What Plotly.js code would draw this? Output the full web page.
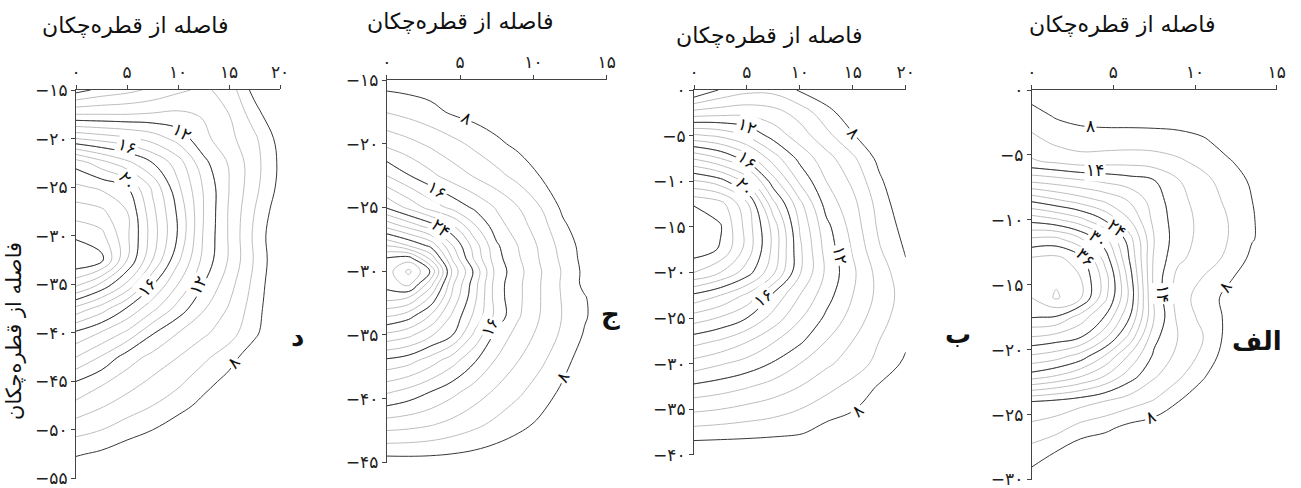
<!DOCTYPE html>
<html><head><meta charset="utf-8">
<script src="https://cdn.plot.ly/plotly-3.0.1.min.js"></script>
<style>html,body{margin:0;padding:0;background:#fff;}#chart{width:1301px;height:488px;}</style>
</head><body><div id="chart"></div>
<script>
// ---------- Panel د ----------
const dX = [0, 2.5, 5, 7.5, 10, 12.5, 15, 17.5, 20];
const dY = [-15, -17.5, -20, -22.5, -25, -27.5, -30, -32.5, -35, -37.5, -40, -42.5, -45, -47.5, -50, -52.5, -55];
const dZ = [
  [7.6, 8.3, 8.7, 9.2, 9.8, 10.2, 9.6, 7.6, 5.8],
  [11.0, 11.0, 11.0, 11.1, 11.2, 10.9, 10.0, 8.5, 6.8],
  [15.0, 14.6, 14.2, 13.6, 12.6, 11.3, 10.3, 9.2, 7.6],
  [19.6, 18.4, 17.3, 16.0, 14.5, 12.3, 10.9, 9.4, 7.8],
  [21.2, 20.8, 20.0, 17.8, 15.2, 12.9, 11.0, 9.3, 7.7],
  [22.5, 22.2, 21.0, 18.3, 15.8, 13.0, 10.9, 9.0, 7.3],
  [23.8, 23.3, 21.2, 18.5, 15.9, 12.9, 10.9, 8.8, 7.0],
  [25.0, 24.3, 21.0, 18.0, 15.2, 12.7, 10.9, 8.9, 7.1],
  [22.3, 20.8, 18.8, 16.1, 14.0, 12.0, 10.4, 8.7, 7.0],
  [18.7, 17.5, 15.9, 14.3, 12.6, 11.1, 9.9, 8.5, 6.9],
  [15.8, 14.9, 13.8, 12.1, 11.0, 10.2, 9.4, 8.3, 6.6],
  [14.0, 12.9, 11.5, 10.7, 10.0, 9.2, 8.5, 7.2, 5.8],
  [12.0, 11.2, 10.5, 9.8, 9.2, 8.5, 7.6, 6.4, 5.0],
  [10.7, 10.1, 9.5, 9.0, 8.5, 7.6, 6.6, 5.6, 4.5],
  [9.35, 9.0, 8.5, 8.0, 7.2, 6.4, 5.6, 4.8, 4.0],
  [8.1, 7.8, 7.3, 6.8, 6.2, 5.6, 4.9, 4.2, 3.5],
  [7.0, 6.8, 6.4, 6.0, 5.5, 5.0, 4.4, 3.8, 3.2]
];
const dGray = [9, 25, 1];
const dBlack = [8, 12, 16, 20, 24];
const dXTicks = [0, 5, 10, 15, 20];
const dXText = ['۰', '۵', '۱۰', '۱۵', '۲۰'];
const dYTicks = [-15, -20, -25, -30, -35, -40, -45, -50, -55];
const dYText = ['−۱۵', '−۲۰', '−۲۵', '−۳۰', '−۳۵', '−۴۰', '−۴۵', '−۵۰', '−۵۵'];
const dLabels = ['۱۲', '۱۶', '۲۰', '۱۶', '۱۲', '۸'];

// ---------- Panel ج ----------
const jX = [0, 1.5, 3, 4.5, 6, 7.5, 9, 10.5, 12, 13.5, 15];
const jY = [-15, -17.5, -20, -22.5, -25, -26.5, -28, -29, -30, -31, -32, -33.5, -35, -37, -39.5, -42, -45];
const jZ = [
  [7.0, 6.9, 6.8, 6.6, 6.4, 6.2, 6.0, 5.8, 5.6, 5.4, 5.2],
  [9.9, 9.3, 8.6, 7.7, 7.2, 6.8, 6.4, 6.0, 5.7, 5.4, 5.1],
  [13.5, 12.6, 11.6, 10.6, 9.5, 8.4, 7.5, 6.9, 6.3, 5.8, 5.3],
  [18.0, 16.1, 14.5, 13.0, 11.8, 10.6, 9.3, 7.9, 7.0, 6.2, 5.5],
  [23.8, 21.5, 19.2, 17.4, 15.6, 13.8, 12.0, 10.0, 7.6, 6.6, 5.8],
  [29.6, 27.5, 25.2, 22.4, 18.3, 14.9, 12.9, 10.9, 8.4, 6.8, 6.0],
  [36.0, 34.0, 31.5, 26.0, 21.0, 16.3, 13.9, 11.6, 9.2, 7.2, 6.2],
  [40.2, 41.0, 35.5, 27.7, 21.6, 16.7, 14.2, 11.8, 9.5, 7.3, 6.3],
  [41.0, 44.5, 39.8, 29.5, 23.5, 17.2, 14.6, 12.1, 9.8, 7.5, 6.5],
  [40.8, 42.6, 36.8, 28.3, 22.8, 16.9, 14.4, 12.0, 9.7, 7.5, 6.5],
  [39.0, 38.2, 33.8, 27.5, 22.5, 16.9, 14.4, 12.0, 9.8, 8.1, 6.7],
  [34.2, 32.8, 29.8, 25.6, 21.5, 17.3, 14.2, 11.9, 9.9, 8.2, 6.8],
  [29.5, 28.5, 26.3, 24.0, 19.5, 15.3, 13.2, 11.4, 9.6, 7.8, 6.6],
  [23.6, 22.8, 21.0, 18.8, 16.2, 13.8, 12.0, 10.4, 8.7, 7.0, 6.0],
  [18.2, 17.2, 15.9, 14.5, 13.0, 11.6, 10.3, 9.0, 7.6, 6.4, 5.6],
  [13.0, 12.7, 12.2, 11.4, 10.5, 9.5, 8.6, 7.6, 6.6, 5.8, 5.2],
  [7.0, 7.1, 7.1, 7.0, 6.8, 6.5, 6.0, 5.6, 5.2, 4.8, 4.5]
];
const jGray = [10, 44, 2];
const jBlack = [8, 16, 24, 32, 40];
const jXTicks = [0, 5, 10, 15];
const jXText = ['۰', '۵', '۱۰', '۱۵'];
const jYTicks = [-15, -20, -25, -30, -35, -40, -45];
const jYText = ['−۱۵', '−۲۰', '−۲۵', '−۳۰', '−۳۵', '−۴۰', '−۴۵'];
const jLabels = ['۸', '۱۶', '۲۴', '۱۶', '۸'];

// ---------- Panel ب ----------
const bX = [0, 2.5, 5, 7.5, 10, 12.5, 15, 17.5, 20];
const bY = [0, -2.5, -5, -7.5, -10, -12.5, -15, -17.5, -20, -22.5, -25, -27.5, -30, -32.5, -35, -37.5, -40];
const bZ = [
  [6.9, 8.1, 8.7, 8.7, 7.9, 7.2, 6.5, 5.8, 5.2],
  [10.4, 10.6, 10.7, 10.4, 9.6, 8.4, 7.3, 6.4, 5.6],
  [14.2, 13.8, 12.9, 11.6, 10.5, 9.3, 8.1, 7.0, 6.0],
  [17.9, 17.0, 15.6, 13.5, 11.7, 10.4, 9.2, 7.7, 6.5],
  [21.1, 20.4, 18.7, 15.4, 12.8, 11.0, 9.8, 8.2, 6.9],
  [23.9, 23.4, 21.2, 17.3, 14.3, 11.6, 10.3, 8.6, 7.2],
  [25.0, 24.1, 21.6, 18.6, 14.9, 12.3, 10.6, 8.8, 7.6],
  [24.6, 23.9, 21.6, 18.7, 15.2, 12.6, 10.9, 9.1, 7.9],
  [23.0, 22.0, 20.5, 18.2, 15.1, 12.8, 11.2, 9.6, 8.2],
  [19.8, 19.0, 17.8, 15.8, 14.0, 12.4, 11.0, 9.7, 8.5],
  [17.5, 16.9, 16.0, 14.6, 13.1, 11.8, 10.6, 9.4, 8.4],
  [15.4, 14.9, 14.1, 13.1, 12.2, 11.0, 10.0, 9.0, 8.2],
  [13.6, 13.1, 12.6, 11.9, 11.0, 10.2, 9.5, 8.7, 7.8],
  [11.8, 11.5, 11.1, 10.6, 10.0, 9.3, 8.7, 7.9, 7.2],
  [10.2, 10.0, 9.7, 9.4, 9.0, 8.5, 8.1, 7.2, 6.5],
  [8.6, 8.5, 8.4, 8.3, 8.15, 7.6, 7.0, 6.4, 5.8],
  [7.0, 7.0, 7.0, 6.9, 6.7, 6.4, 6.0, 5.5, 5.0]
];
const bGray = [9, 25, 1];
const bBlack = [8, 12, 16, 20, 24];
const bXTicks = [0, 5, 10, 15, 20];
const bXText = ['۰', '۵', '۱۰', '۱۵', '۲۰'];
const bYTicks = [0, -5, -10, -15, -20, -25, -30, -35, -40];
const bYText = ['۰', '−۵', '−۱۰', '−۱۵', '−۲۰', '−۲۵', '−۳۰', '−۳۵', '−۴۰'];
const bLabels = ['۸', '۱۲', '۱۶', '۲۰', '۱۲', '۱۶', '۸'];

// ---------- Panel الف ----------
const aX = [0, 1.5, 3, 4.5, 6, 7.5, 9, 10.5, 12, 13.5, 15];
const aY = [0, -2, -4, -5.5, -7, -8.5, -10, -11.5, -13, -14.5, -16, -17.5, -19, -20.5, -22, -24, -26, -28, -30];
const aZ = [
  [7.0, 6.8, 6.6, 6.5, 6.4, 6.3, 6.2, 6.0, 5.8, 5.6, 5.4],
  [8.8, 7.8, 7.4, 7.2, 7.1, 7.0, 6.9, 6.8, 6.5, 6.1, 5.7],
  [10.7, 9.6, 9.0, 9.0, 9.1, 9.1, 8.9, 8.3, 7.3, 6.6, 6.0],
  [12.25, 11.6, 11.0, 11.2, 11.3, 11.0, 10.3, 9.4, 8.2, 7.2, 6.4],
  [17.6, 17.0, 16.3, 15.6, 14.9, 14.1, 12.1, 10.6, 9.1, 7.7, 6.8],
  [23.6, 22.3, 21.0, 19.6, 17.8, 15.0, 12.6, 11.1, 9.6, 8.0, 7.0],
  [29.3, 28.3, 26.6, 23.8, 20.0, 15.4, 12.9, 11.4, 10.0, 8.1, 7.2],
  [34.4, 34.6, 32.3, 28.6, 22.8, 16.0, 12.8, 11.4, 10.0, 8.1, 7.1],
  [38.3, 38.6, 36.8, 31.2, 23.8, 15.6, 12.4, 11.0, 9.6, 7.5, 6.6],
  [38.6, 39.6, 38.0, 33.0, 25.0, 15.4, 11.2, 9.9, 8.3, 6.9, 6.2],
  [38.0, 40.3, 38.2, 32.5, 25.5, 15.6, 11.0, 9.0, 7.5, 6.6, 6.0],
  [36.1, 35.8, 33.0, 29.8, 24.0, 16.0, 11.4, 9.4, 7.6, 6.6, 6.0],
  [32.0, 31.3, 30.2, 26.5, 21.4, 14.6, 11.9, 10.0, 7.4, 6.4, 5.8],
  [27.7, 26.9, 25.1, 21.8, 17.6, 13.6, 11.4, 9.5, 6.9, 6.0, 5.5],
  [23.2, 22.0, 20.3, 18.0, 15.0, 12.3, 10.4, 8.2, 6.6, 5.8, 5.3],
  [14.0, 13.5, 12.8, 11.9, 10.9, 9.8, 8.0, 6.9, 6.1, 5.5, 5.0],
  [11.4, 10.8, 9.3, 8.5, 7.4, 6.8, 6.3, 5.8, 5.4, 5.0, 4.7],
  [9.1, 7.8, 6.3, 6.0, 5.8, 5.6, 5.4, 5.2, 5.0, 4.7, 4.4],
  [7.0, 6.5, 6.1, 5.8, 5.5, 5.3, 5.1, 4.9, 4.7, 4.5, 4.3]
];
const aGray = [10, 40, 2];
const aBlack = [8, 14, 24, 30, 36];
const aXTicks = [0, 5, 10, 15];
const aXText = ['۰', '۵', '۱۰', '۱۵'];
const aYTicks = [0, -5, -10, -15, -20, -25, -30];
const aYText = ['۰', '−۵', '−۱۰', '−۱۵', '−۲۰', '−۲۵', '−۳۰'];
const aLabels = ['۸', '۱۴', '۲۴', '۳۰', '۳۶', '۱۴', '۸', '۸'];

const titleText = 'فاصله از قطره‌چکان';
const panelNames = ['د', 'ج', 'ب', 'الف'];

// ---------- build ----------
const W = 1301, H = 488;
const FONT = 'DejaVu Sans';
const GRAY = '#bdbdbd', BLACK = '#383838';

function grayTrace(x, y, z, ax, lev) {
  return {type: 'contour', x: x, y: y, z: z, xaxis: ax[0], yaxis: ax[1],
    autocontour: false, contours: {coloring: 'none', start: lev[0], end: lev[1], size: lev[2], showlabels: false},
    line: {color: GRAY, width: 1, smoothing: 1.1}, showscale: false, hoverinfo: 'skip', showlegend: false};
}
function blackTraces(x, y, z, ax, levels) {
  return levels.map(L => ({type: 'contour', x: x, y: y, z: z, xaxis: ax[0], yaxis: ax[1],
    autocontour: false, contours: {coloring: 'none', start: L, end: L, size: 1, showlabels: false},
    line: {color: BLACK, width: 1, smoothing: 1.1}, showscale: false, hoverinfo: 'skip', showlegend: false}));
}

const panels = [
  {x: dX, y: dY, z: dZ, gray: dGray, black: dBlack, ax: ['x', 'y']},
  {x: jX, y: jY, z: jZ, gray: jGray, black: jBlack, ax: ['x2', 'y2']},
  {x: bX, y: bY, z: bZ, gray: bGray, black: bBlack, ax: ['x3', 'y3']},
  {x: aX, y: aY, z: aZ, gray: aGray, black: aBlack, ax: ['x4', 'y4']}
];
let traces = [];
panels.forEach(p => { traces.push(grayTrace(p.x, p.y, p.z, p.ax, p.gray)); });
panels.forEach(p => { traces = traces.concat(blackTraces(p.x, p.y, p.z, p.ax, p.black)); });

function dx(p0, p1) { return [p0 / W, p1 / W]; }
function dy(p0, p1) { return [(H - p1) / H, (H - p0) / H]; }

const axCommon = {showline: true, linecolor: '#444', linewidth: 1, ticks: 'outside', ticklen: 4, tickwidth: 1,
  tickcolor: '#444', showgrid: false, zeroline: false, tickmode: 'array', fixedrange: true,
  ticklabeloverflow: 'allow',
  tickfont: {family: FONT, size: 17, color: '#222'}};
function xAx(dom, range, tv, tt, anchor) {
  return Object.assign({}, axCommon, {domain: dom, range: range, side: 'top', anchor: anchor, tickvals: tv, ticktext: tt});
}
function yAx(dom, range, tv, tt, anchor) {
  return Object.assign({}, axCommon, {domain: dom, range: range, side: 'left', anchor: anchor, tickvals: tv, ticktext: tt});
}

const layout = {
  width: W, height: H, margin: {l: 0, r: 0, t: 0, b: 0}, paper_bgcolor: '#fff', plot_bgcolor: 'rgba(0,0,0,0)',
  showlegend: false,
  xaxis: xAx(dx(76, 280), [0, 20], dXTicks, dXText, 'y'),
  yaxis: yAx(dy(90, 478.7), [-55.02, -15], dYTicks, dYText, 'x'),
  xaxis2: xAx(dx(386.7, 606.7), [0, 15], jXTicks, jXText, 'y2'),
  yaxis2: yAx(dy(80, 462.7), [-45.02, -15], jYTicks, jYText, 'x2'),
  xaxis3: xAx(dx(694, 905.7), [0, 20], bXTicks, bXText, 'y3'),
  yaxis3: yAx(dy(90, 455), [-40.02, 0], bYTicks, bYText, 'x3'),
  xaxis4: xAx(dx(1031.7, 1276.7), [0, 15], aXTicks, aXText, 'y4'),
  yaxis4: yAx(dy(90, 480), [-30.04, 0], aYTicks, aYText, 'x4'),
  annotations: []
};

function paperNote(text, px, py, size, opts) {
  return Object.assign({text: text, x: px / W, y: (H - py) / H, xref: 'paper', yref: 'paper', showarrow: false,
    xanchor: 'center', yanchor: 'middle', font: {family: FONT, size: size, color: '#111'}}, opts || {});
}
// titles
[[135, 25], [460, 22], [769, 36], [1122, 24]].forEach(p => layout.annotations.push(paperNote(titleText, p[0], p[1], 22)));
// y-axis title of first panel
layout.annotations.push(paperNote(titleText, 14, 331, 21, {textangle: -90}));
// panel names
[[297, 337], [610, 314], [958, 334], [1257, 341]].forEach((p, i) =>
  layout.annotations.push(paperNote('<b>' + panelNames[i] + '</b>', p[0], p[1], 26)));

// contour labels (position + angle in each panel's axes)
function lab(text, xr, yr, x, y, ang) {
  return {text: text, x: x, y: y, xref: xr, yref: yr, showarrow: false, textangle: ang,
    xanchor: 'center', yanchor: 'middle', bgcolor: '#fff', borderpad: 1,
    font: {family: FONT, size: 17, color: '#111'}};
}
const dPos = [[10.4, -19.3, 31], [5.0, -20.8, 21], [5.0, -24.4, 58], [7.0, -35.3, -48], [12.0, -35.1, -61], [15.4, -43.1, -51]];
dPos.forEach((p, i) => layout.annotations.push(lab(dLabels[i], 'x', 'y', p[0], p[1], p[2])));
const jPos = [[5.45, -18.0, 29], [3.43, -23.6, 33], [3.7, -26.6, 39], [7.04, -34.4, -65], [12.0, -38.3, -63]];
jPos.forEach((p, i) => layout.annotations.push(lab(jLabels[i], 'x2', 'y2', p[0], p[1], p[2])));
const bPos = [[15.1, -4.7, 48], [5.0, -4.0, 22], [5.0, -7.7, 39], [4.8, -10.6, 53], [13.8, -18.1, 80], [6.5, -22.8, -37], [15.4, -35.2, -43]];
bPos.forEach((p, i) => layout.annotations.push(lab(bLabels[i], 'x3', 'y3', p[0], p[1], p[2])));
const aPos = [[3.6, -2.8, 0], [3.9, -6.2, 0], [5.2, -10.6, 40], [4.08, -11.5, 40], [3.26, -12.9, 45], [8.05, -15.7, 90], [11.85, -15.2, -57], [7.25, -25.2, -24]];
aPos.forEach((p, i) => layout.annotations.push(lab(aLabels[i], 'x4', 'y4', p[0], p[1], p[2])));

Plotly.newPlot('chart', traces, layout, {staticPlot: true, displayModeBar: false});
</script></body></html>
